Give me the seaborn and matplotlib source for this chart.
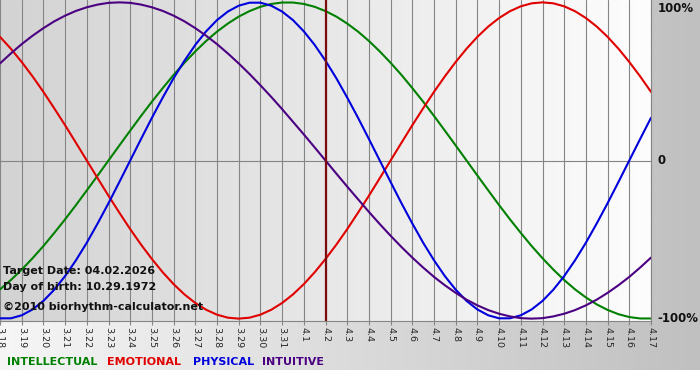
import numpy as np
import pandas as pd
import matplotlib
matplotlib.use("Agg")
import matplotlib.pyplot as plt
from matplotlib.colors import LinearSegmentedColormap
import seaborn as sns

# dates shown on the x axis (month.day)
days = ["3.18", "3.19", "3.20", "3.21", "3.22", "3.23", "3.24", "3.25", "3.26", "3.27",
        "3.28", "3.29", "3.30", "3.31", "4.1", "4.2", "4.3", "4.4", "4.5", "4.6",
        "4.7", "4.8", "4.9", "4.10", "4.11", "4.12", "4.13", "4.14", "4.15", "4.16", "4.17"]

# biorhythm values (-1 .. 1), one reading every half day
intellectual = [-0.815, -0.756, -0.690, -0.618, -0.541, -0.458, -0.372, -0.282, -0.189, -0.095,
                0.000, 0.095, 0.189, 0.282, 0.372, 0.458, 0.541, 0.618, 0.690, 0.756,
                0.815, 0.866, 0.910, 0.945, 0.972, 0.990, 0.999, 0.999, 0.990, 0.972,
                0.945, 0.910, 0.866, 0.815, 0.756, 0.690, 0.618, 0.541, 0.458, 0.372,
                0.282, 0.189, 0.095, 0.000, -0.095, -0.189, -0.282, -0.372, -0.458, -0.541,
                -0.618, -0.690, -0.756, -0.815, -0.866, -0.910, -0.945, -0.972, -0.990, -0.999,
                -0.999]
emotional = [0.782, 0.707, 0.623, 0.532, 0.434, 0.330, 0.223, 0.112, 0.000, -0.112,
             -0.223, -0.330, -0.434, -0.532, -0.623, -0.707, -0.782, -0.847, -0.901, -0.944,
             -0.975, -0.994, -1.000, -0.994, -0.975, -0.944, -0.901, -0.847, -0.782, -0.707,
             -0.623, -0.532, -0.434, -0.330, -0.223, -0.112, 0.000, 0.112, 0.223, 0.330,
             0.434, 0.532, 0.623, 0.707, 0.782, 0.847, 0.901, 0.944, 0.975, 0.994,
             1.000, 0.994, 0.975, 0.944, 0.901, 0.847, 0.782, 0.707, 0.623, 0.532,
             0.434]
physical = [-0.998, -0.998, -0.979, -0.942, -0.888, -0.817, -0.731, -0.631, -0.520, -0.398,
            -0.270, -0.136, 0.000, 0.136, 0.270, 0.398, 0.520, 0.631, 0.731, 0.817,
            0.888, 0.942, 0.979, 0.998, 0.998, 0.979, 0.942, 0.888, 0.817, 0.731,
            0.631, 0.520, 0.398, 0.270, 0.136, 0.000, -0.136, -0.270, -0.398, -0.520,
            -0.631, -0.731, -0.817, -0.888, -0.942, -0.979, -0.998, -0.998, -0.979, -0.942,
            -0.888, -0.817, -0.731, -0.631, -0.520, -0.398, -0.270, -0.136, 0.000, 0.136,
            0.270]
intuitive = [0.614, 0.677, 0.736, 0.789, 0.837, 0.880, 0.916, 0.946, 0.969, 0.986,
             0.997, 1.000, 0.997, 0.986, 0.969, 0.946, 0.916, 0.880, 0.837, 0.789,
             0.736, 0.677, 0.614, 0.547, 0.476, 0.402, 0.325, 0.245, 0.165, 0.083,
             0.000, -0.083, -0.165, -0.245, -0.325, -0.402, -0.476, -0.547, -0.614, -0.677,
             -0.736, -0.789, -0.837, -0.880, -0.916, -0.946, -0.969, -0.986, -0.997, -1.000,
             -0.997, -0.986, -0.969, -0.946, -0.916, -0.880, -0.837, -0.789, -0.736, -0.677,
             -0.614]

target_day = "4.2"
target_date = "04.02.2026"
birth_date = "10.29.1972"

rhythms = ["INTELLECTUAL", "EMOTIONAL", "PHYSICAL", "INTUITIVE"]
palette = {"INTELLECTUAL": "#008000", "EMOTIONAL": "#e00000",
           "PHYSICAL": "#0000dd", "INTUITIVE": "#4b0082"}

# half-day steps from the first to the last date
steps = np.linspace(0, len(days) - 1, len(physical))

df = pd.DataFrame({
    "day": steps,
    "INTELLECTUAL": intellectual,
    "EMOTIONAL": emotional,
    "PHYSICAL": physical,
    "INTUITIVE": intuitive,
}).melt(id_vars="day", var_name="rhythm", value_name="value")

sns.set_theme(style="white")
plt.rcParams["font.family"] = ["DejaVu Sans"]

W, H = 700, 380
fig = plt.figure(figsize=(W / 100, H / 100), dpi=100)
fig.patch.set_facecolor("white")

# grey gradient behind everything (white strip left at the very bottom)
bg = fig.add_axes([0, 10 / H, 1, 1 - 10 / H])
bg.imshow(np.linspace(0, 1, 256)[None, :], aspect="auto", extent=[0, 1, 0, 1],
          cmap=LinearSegmentedColormap.from_list("bg", ["#f6f6f6", "#c0c0c0"]))
bg.axis("off")

ax = fig.add_axes([0, (H - 321) / H, 651 / W, 321 / H])
ylim = (-1.015, 1.015)
ax.imshow(np.linspace(0, 1, 256)[None, :], aspect="auto", zorder=0,
          extent=[0, len(days) - 1, ylim[0], ylim[1]],
          cmap=LinearSegmentedColormap.from_list("plot", ["#d3d3d3", "#fdfdfd"]))

ax.set_xticks(np.arange(len(days)))
ax.set_xticklabels(days, rotation=270, fontsize=6.8)
ax.set_yticks([])
ax.grid(axis="x", color="#858585", linewidth=0.8, zorder=1)
ax.axhline(0, color="#858585", linewidth=0.8, zorder=1)
ax.tick_params(axis="x", length=3, width=0.8, color="#858585", pad=1, direction="out",
               bottom=True)

sns.lineplot(data=df, x="day", y="value", hue="rhythm", hue_order=rhythms,
             palette=palette, linewidth=1.5, legend=False, ax=ax, zorder=3)

ax.axvline(days.index(target_day), color="#7d0c0c", linewidth=1.6, zorder=4)

ax.set_xlim(0, len(days) - 1)
ax.set_ylim(*ylim)
ax.set_xlabel("")
ax.set_ylabel("")
for side in ["left", "top"]:
    ax.spines[side].set_visible(False)
for side in ["right", "bottom"]:
    ax.spines[side].set_color("#858585")
    ax.spines[side].set_linewidth(0.8)

# percent labels on the right side
lab_kw = dict(transform=ax.get_yaxis_transform(), fontsize=8.5, fontweight="bold",
              color="#111111", ha="left")
ax.text(1.01, 1.0, "100%", va="top", **lab_kw)
ax.text(1.01, 0.0, "0", va="center", **lab_kw)
ax.text(1.01, -1.0, "-100%", va="center", **lab_kw)

# info text in the lower left corner
info_kw = dict(fontsize=8, fontweight="bold", color="#111111", va="center", ha="left")
fig.text(3 / W, 1 - 271 / H, f"Target Date: {target_date}", **info_kw)
fig.text(3 / W, 1 - 287 / H, f"Day of birth: {birth_date}", **info_kw)
fig.text(3 / W, 1 - 307 / H, "\u00a92010 biorhythm-calculator.net", **info_kw)

# coloured legend row
legend_x = [7, 107, 193, 262]
for name, x in zip(rhythms, legend_x):
    fig.text(x / W, 1 - 362 / H, name, color=palette[name], fontsize=8,
             fontweight="bold", va="center", ha="left")

fig.savefig("out.png", dpi=100)
